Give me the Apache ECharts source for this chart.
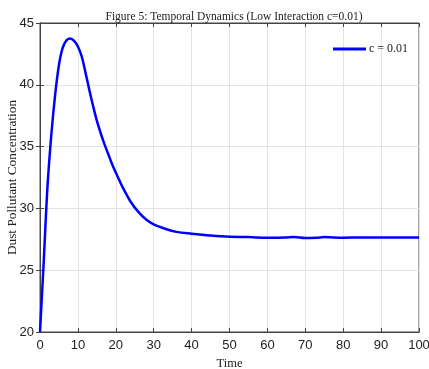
<!DOCTYPE html>
<html>
<head>
<meta charset="utf-8">
<script src="https://cdn.jsdelivr.net/npm/echarts@6/dist/echarts.min.js"></script>
<style>html,body{margin:0;padding:0;background:#fff}#c{width:429px;height:369px}</style>
</head>
<body>
<div id="c"></div>
<script>
const titleText = 'Figure 5: Temporal Dynamics (Low Interaction c=0.01)';
const seriesName = 'c = 0.01';
const xName = 'Time';
const yName = 'Dust Pollutant Concentration';
const timeValues = [0,1,2,3,4,5,6,7,8,9,10,11,12,13,14,15,16,17,18,19,20,22,24,26,28,30,33,36,40,45,50,55,60,65,67,70,73,75,80,85,90,95,100];
const concValues = [20,25.8,31.9,36.0,39.2,41.6,43.0,43.6,43.75,43.55,43.1,42.3,41.0,39.6,38.3,37.1,36.1,35.2,34.4,33.6,32.9,31.6,30.5,29.7,29.1,28.7,28.35,28.1,27.95,27.8,27.7,27.68,27.62,27.65,27.68,27.6,27.63,27.68,27.63,27.65,27.64,27.65,27.65];
const xTicks = {min:0, max:100, interval:10};
const yTicks = {min:20, max:45, interval:5};

const data = timeValues.map((t,i)=>[t, concValues[i]]);
const chart = echarts.init(document.getElementById('c'), null, {renderer:'canvas'});
const axisLbl = {color:'#222', fontFamily:'Liberation Sans, Arial, sans-serif', fontSize:13};
const gridLine = {show:true, lineStyle:{color:'#e3e3e3', width:1}};
chart.setOption({
  backgroundColor:'#fff',
  animation:false,
  title:{text:titleText, left:229, textAlign:'center', top:6,
    textStyle:{fontFamily:'Liberation Serif, Times New Roman, serif', fontSize:11.5, fontWeight:'normal', color:'#222'}},
  legend:{left:328, top:38, itemWidth:33, itemHeight:3, icon:'rect', itemGap:4,
    textStyle:{fontFamily:'Liberation Serif, Times New Roman, serif', fontSize:12, color:'#222', padding:[0,0,0,-2]},
    data:[seriesName]},
  grid:{left:40, right:10, top:23, bottom:37, containLabel:false, outerBoundsMode:'none',
    show:true, borderColor:'#444', borderWidth:1, backgroundColor:'#fff'},
  xAxis:[
    {type:'value', min:xTicks.min, max:xTicks.max, interval:xTicks.interval, position:'bottom',
     name:xName, nameLocation:'middle', nameGap:25, nameMoveOverlap:false,
     nameTextStyle:{fontFamily:'Liberation Serif, Times New Roman, serif', fontSize:12.5, color:'#222'},
     axisLine:{show:true, lineStyle:{color:'#444'}}, axisTick:{show:true, inside:true, length:4, lineStyle:{color:'#444'}},
     axisLabel:Object.assign({margin:7}, axisLbl), splitLine:gridLine},
    {type:'value', min:xTicks.min, max:xTicks.max, interval:xTicks.interval, position:'top',
     axisLine:{show:true, lineStyle:{color:'#444'}}, axisTick:{show:true, inside:true, length:4, lineStyle:{color:'#444'}},
     axisLabel:{show:false}, splitLine:{show:false}}
  ],
  yAxis:[
    {type:'value', min:yTicks.min, max:yTicks.max, interval:yTicks.interval, position:'left',
     name:yName, nameLocation:'middle', nameGap:21, nameMoveOverlap:false,
     nameTextStyle:{fontFamily:'Liberation Serif, Times New Roman, serif', fontSize:13.3, color:'#222'},
     axisLine:{show:true, lineStyle:{color:'#444'}}, axisTick:{show:true, inside:true, length:4, lineStyle:{color:'#444'}},
     axisLabel:Object.assign({margin:6}, axisLbl), splitLine:gridLine},
    {type:'value', min:yTicks.min, max:yTicks.max, interval:yTicks.interval, position:'right',
     axisLine:{show:true, lineStyle:{color:'#444'}}, axisTick:{show:true, inside:true, length:4, lineStyle:{color:'#444'}},
     axisLabel:{show:false}, splitLine:{show:false}}
  ],
  series:[{name:seriesName, type:'line', data:data, smooth:0.35, showSymbol:false, symbol:'none',
    lineStyle:{color:'#0000ff', width:2.5}, itemStyle:{color:'#0000ff'}}]
});
</script>
</body>
</html>
